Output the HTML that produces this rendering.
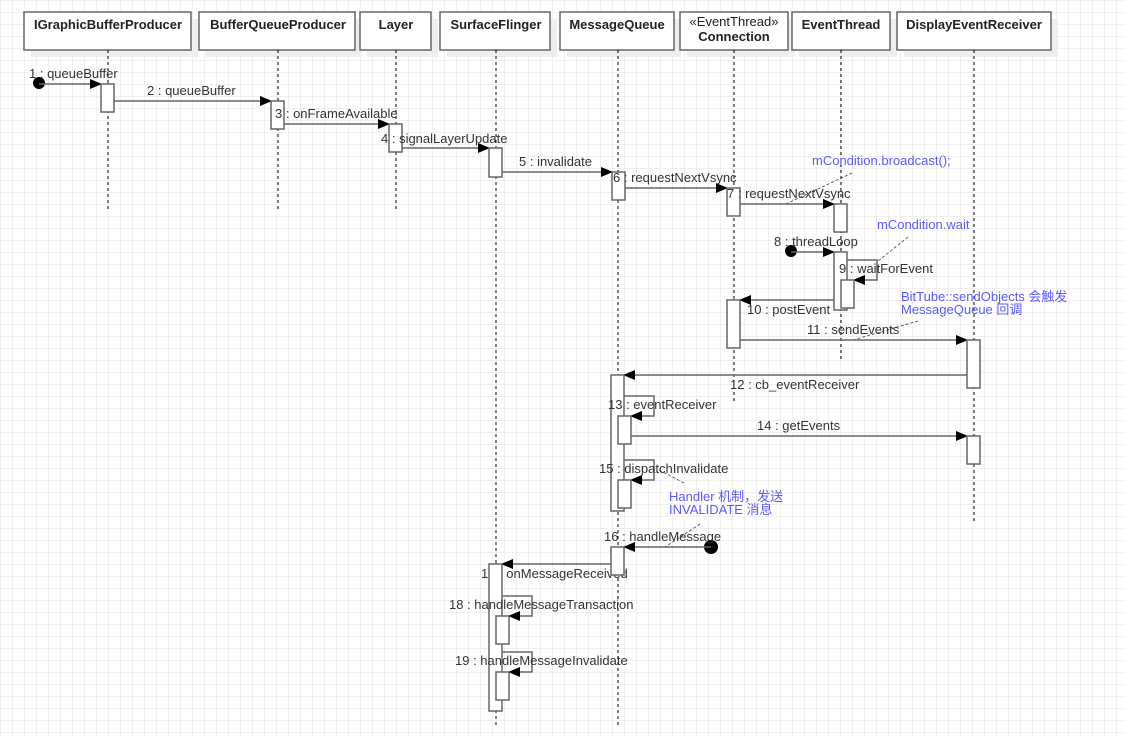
<!DOCTYPE html>
<html><head><meta charset="utf-8"><style>
html,body{margin:0;padding:0;background:#fff;}
svg{display:block;}
text{font-family:"Liberation Sans","Noto Sans CJK SC",sans-serif;font-size:13px;fill:#333;}
.h{font-weight:bold;font-size:13px;fill:#222;}
.n{fill:#5a5aff;font-size:13px;}
.ll{stroke:#000;stroke-width:1;stroke-dasharray:3,3;}
.b{fill:#fff;stroke:#666;stroke-width:1.5;}
.m{stroke:#666;stroke-width:1.5;fill:none;}
.d{stroke:#444;stroke-width:0.8;stroke-dasharray:3,2;fill:none;}
</style></head><body>
<svg width="1126" height="737" viewBox="0 0 1126 737" xmlns="http://www.w3.org/2000/svg">
<defs>
<pattern id="g" width="12" height="12" patternUnits="userSpaceOnUse"><path d="M12 0H0V12" fill="none" stroke="#e2e2e2" stroke-width="1"/></pattern>
<marker id="ar" markerWidth="12" markerHeight="10" refX="11" refY="5" orient="auto" markerUnits="userSpaceOnUse"><path d="M0,0 L12,5 L0,10 Z" fill="#000"/></marker>
</defs>
<rect width="1126" height="737" fill="url(#g)"/>
<g fill="#eee">
<rect x="31" y="19" width="167" height="38"/><rect x="206" y="19" width="156" height="38"/><rect x="367" y="19" width="71" height="38"/><rect x="447" y="19" width="110" height="38"/><rect x="567" y="19" width="114" height="38"/><rect x="687" y="19" width="108" height="38"/><rect x="799" y="19" width="98" height="38"/><rect x="904" y="19" width="154" height="38"/>
</g>
<g class="b">
<rect x="24" y="12" width="167" height="38"/><rect x="199" y="12" width="156" height="38"/><rect x="360" y="12" width="71" height="38"/><rect x="440" y="12" width="110" height="38"/><rect x="560" y="12" width="114" height="38"/><rect x="680" y="12" width="108" height="38"/><rect x="792" y="12" width="98" height="38"/><rect x="897" y="12" width="154" height="38"/>
</g>
<g text-anchor="middle">
<text class="h" x="108" y="29">IGraphicBufferProducer</text>
<text class="h" x="278" y="29">BufferQueueProducer</text>
<text class="h" x="396" y="29">Layer</text>
<text class="h" x="496" y="29">SurfaceFlinger</text>
<text class="h" x="617" y="29">MessageQueue</text>
<text x="734" y="26" style="font-size:13px;fill:#222">«EventThread»</text>
<text class="h" x="734" y="41">Connection</text>
<text class="h" x="841" y="29">EventThread</text>
<text class="h" x="974" y="29">DisplayEventReceiver</text>
</g>
<line class="ll" x1="108" y1="50" x2="108" y2="212"/>
<line class="ll" x1="278" y1="50" x2="278" y2="212"/>
<line class="ll" x1="396" y1="50" x2="396" y2="212"/>
<line class="ll" x1="496" y1="50" x2="496" y2="725"/>
<line class="ll" x1="618" y1="50" x2="618" y2="725"/>
<line class="ll" x1="734" y1="50" x2="734" y2="402"/>
<line class="ll" x1="841" y1="50" x2="841" y2="360"/>
<line class="ll" x1="974" y1="50" x2="974" y2="523"/>

<text x="481" y="578">17 : onMessageReceived</text>

<text class="n" x="812" y="165">mCondition.broadcast();</text>
<text class="n" x="877" y="229">mCondition.wait</text>
<text class="n" x="901" y="301">BitTube::sendObjects 会触发</text>
<text class="n" x="901" y="314">MessageQueue 回调</text>
<text class="n" x="669" y="501">Handler 机制，发送</text>
<text class="n" x="669" y="514">INVALIDATE 消息</text>
<path class="d" d="M852,173 L786,204"/>
<path class="d" d="M908,237 L877,262"/>
<path class="d" d="M918,321 L853,340"/>
<path class="d" d="M684,483 L659,470"/>
<path class="d" d="M700,524 L665,547"/>

<circle cx="39" cy="83" r="6" fill="#000"/>
<line class="m" x1="39" y1="84" x2="101" y2="84" marker-end="url(#ar)"/>
<line class="m" x1="114" y1="101" x2="271" y2="101" marker-end="url(#ar)"/>
<line class="m" x1="284" y1="124" x2="389" y2="124" marker-end="url(#ar)"/>
<line class="m" x1="402" y1="148" x2="489" y2="148" marker-end="url(#ar)"/>
<line class="m" x1="502" y1="172" x2="612" y2="172" marker-end="url(#ar)"/>
<line class="m" x1="625" y1="188" x2="727" y2="188" marker-end="url(#ar)"/>
<line class="m" x1="740" y1="204" x2="834" y2="204" marker-end="url(#ar)"/>
<circle cx="791" cy="251" r="6" fill="#000"/>
<line class="m" x1="791" y1="252" x2="834" y2="252" marker-end="url(#ar)"/>
<path class="m" d="M847,260 H877 V280 H854" marker-end="url(#ar)"/>
<line class="m" x1="841" y1="300" x2="740" y2="300" marker-end="url(#ar)"/>
<line class="m" x1="740" y1="340" x2="967" y2="340" marker-end="url(#ar)"/>
<line class="m" x1="967" y1="375" x2="624" y2="375" marker-end="url(#ar)"/>
<path class="m" d="M624,396 H654 V416 H631" marker-end="url(#ar)"/>
<line class="m" x1="631" y1="436" x2="967" y2="436" marker-end="url(#ar)"/>
<path class="m" d="M624,460 H654 V480 H631" marker-end="url(#ar)"/>
<circle cx="711" cy="547" r="7" fill="#000"/>
<line class="m" x1="711" y1="547" x2="624" y2="547" marker-end="url(#ar)"/>
<line class="m" x1="611" y1="564" x2="502" y2="564" marker-end="url(#ar)"/>
<path class="m" d="M502,596 H532 V616 H509" marker-end="url(#ar)"/>
<path class="m" d="M502,652 H532 V672 H509" marker-end="url(#ar)"/>

<g class="b">
<rect x="101" y="84" width="13" height="28"/>
<rect x="271" y="101" width="13" height="28"/>
<rect x="389" y="124" width="13" height="28"/>
<rect x="489" y="148" width="13" height="29"/>
<rect x="612" y="172" width="13" height="28"/>
<rect x="727" y="188" width="13" height="28"/>
<rect x="834" y="204" width="13" height="28"/>
<rect x="834" y="252" width="13" height="58"/>
<rect x="841" y="280" width="13" height="28"/>
<rect x="727" y="300" width="13" height="48"/>
<rect x="967" y="340" width="13" height="48"/>
<rect x="611" y="375" width="13" height="136"/>
<rect x="618" y="416" width="13" height="28"/>
<rect x="967" y="436" width="13" height="28"/>
<rect x="618" y="480" width="13" height="28"/>
<rect x="611" y="547" width="13" height="28"/>
<rect x="489" y="564" width="13" height="147"/>
<rect x="496" y="616" width="13" height="28"/>
<rect x="496" y="672" width="13" height="28"/>
</g>

<text x="29" y="78">1 : queueBuffer</text>
<text x="147" y="95">2 : queueBuffer</text>
<text x="275" y="118">3 : onFrameAvailable</text>
<text x="381" y="143">4 : signalLayerUpdate</text>
<text x="519" y="166">5 : invalidate</text>
<text x="613" y="182">6 : requestNextVsync</text>
<text x="727" y="198">7 : requestNextVsync</text>
<text x="774" y="246">8 : threadLoop</text>
<text x="839" y="273">9 : waitForEvent</text>
<text x="747" y="314">10 : postEvent</text>
<text x="807" y="334">11 : sendEvents</text>
<text x="730" y="389">12 : cb_eventReceiver</text>
<text x="608" y="409">13 : eventReceiver</text>
<text x="757" y="430">14 : getEvents</text>
<text x="599" y="473">15 : dispatchInvalidate</text>
<text x="604" y="541">16 : handleMessage</text>
<text x="449" y="609">18 : handleMessageTransaction</text>
<text x="455" y="665">19 : handleMessageInvalidate</text>
</svg>
</body></html>
